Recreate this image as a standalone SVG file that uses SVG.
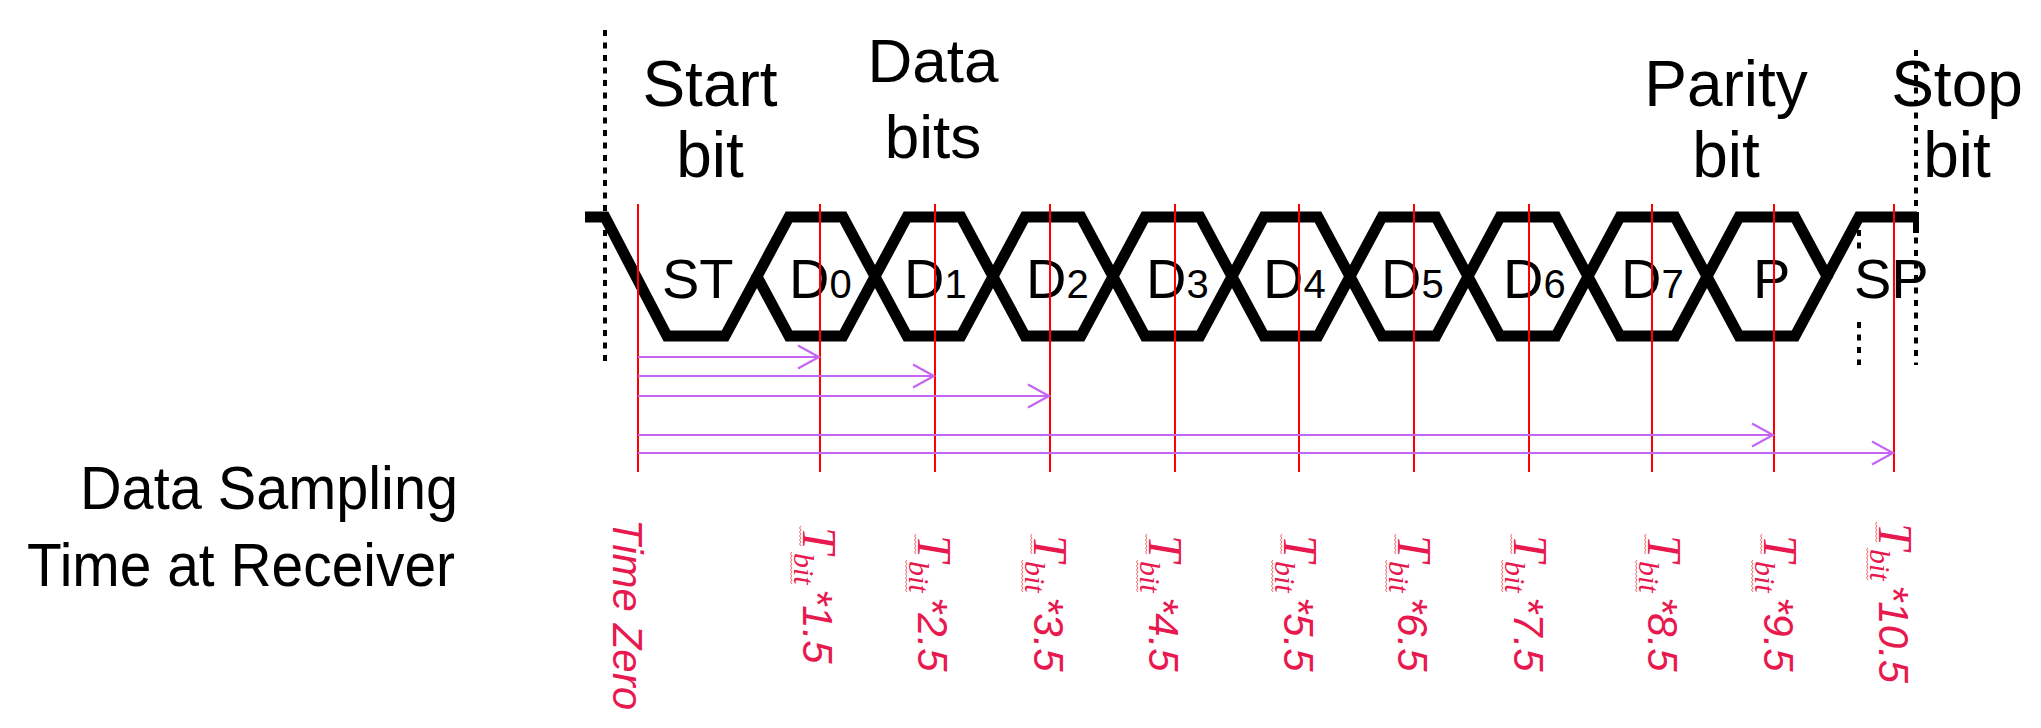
<svg xmlns="http://www.w3.org/2000/svg" xmlns:xlink="http://www.w3.org/1999/xlink" width="2041" height="728" viewBox="0 0 2041 728">
<style>
.wave{fill:none;stroke:#000;stroke-width:11;stroke-linejoin:miter;stroke-miterlimit:6}
.cell{font-family:"Liberation Sans",Arial,sans-serif;font-size:56px;fill:#000}
.sub{font-size:40px}
.lab{font-family:"Liberation Sans",Arial,sans-serif;font-size:64px;fill:#000;text-anchor:middle}
.side{font-family:"Liberation Sans",Arial,sans-serif;font-size:62px;fill:#000}
.dot{stroke:#000;stroke-width:4;stroke-dasharray:6 6.5;fill:none}
.samp{stroke:#FF0000;stroke-width:2}
.arr{stroke:#C466F2;stroke-width:2.2;fill:none;marker-end:url(#ah)}
.tt{font-family:"Liberation Serif","Times New Roman",serif;font-style:italic;font-size:48px;fill:#E8194F}
.ts{font-family:"Liberation Serif","Times New Roman",serif;font-style:italic;font-size:30px;fill:#E8194F}
.tn{font-family:"Liberation Sans",Arial,sans-serif;font-style:italic;font-size:42px;fill:#E8194F}
.sq{fill:none;stroke:#F26470;stroke-width:1}
</style>
<defs>
<marker id="ah" markerUnits="userSpaceOnUse" markerWidth="30" markerHeight="30" refX="22" refY="15" orient="auto" overflow="visible">
<path d="M1,3.5 L22,15 L1,26.5" fill="none" stroke="#C466F2" stroke-width="2.2"/>
</marker>
<path id="sqA" class="sq" d="M0,0 l2,1.5 l2,-1.5 l2,1.5 l2,-1.5 l2,1.5 l2,-1.5 l2,1.5 l2,-1.5 l2,1.5 l2,-1.5"/>
<path id="sqB" class="sq" d="M0,0 l2,1.5 l2,-1.5 l2,1.5 l2,-1.5 l2,1.5 l2,-1.5 l2,1.5 l2,-1.5 l2,1.5 l2,-1.5 l2,1.5 l2,-1.5 l2,1.5 l2,-1.5 l2,1.5 l2,-1.5"/>
</defs>

<g id="side-label">
<text class="side" x="80" y="509" textLength="378" lengthAdjust="spacingAndGlyphs">Data Sampling</text>
<text class="side" x="27" y="586" textLength="428" lengthAdjust="spacingAndGlyphs">Time at Receiver</text>
</g>

<g id="field-labels">
<g id="lbl-start"><text class="lab" x="710" y="106">Start</text><text class="lab" x="710" y="177">bit</text></g>
<g id="lbl-data"><text class="lab" x="933" y="82" style="font-size:62px">Data</text><text class="lab" x="933" y="158" style="font-size:62px">bits</text></g>
<g id="lbl-parity"><text class="lab" x="1726" y="106">Parity</text><text class="lab" x="1726" y="177">bit</text></g>
<g id="lbl-stop"><text class="lab" x="1957" y="106">Stop</text><text class="lab" x="1957" y="177">bit</text></g>
</g>

<g id="cell-ST"><polyline class="wave" points="585,217 605,217 667,336 725,336 757,276.5"/><text class="cell" x="662" y="298">ST</text></g>
<g id="cell-D0"><polygon class="wave" points="757,276.5 789,217 843,217 875,276.5 843,336 789,336"/><text class="cell" x="789" y="298">D<tspan class="sub">0</tspan></text></g>
<g id="cell-D1"><polygon class="wave" points="875,276.5 907,217 961,217 993,276.5 961,336 907,336"/><text class="cell" x="904" y="298">D<tspan class="sub">1</tspan></text></g>
<g id="cell-D2"><polygon class="wave" points="993,276.5 1025,217 1081,217 1113,276.5 1081,336 1025,336"/><text class="cell" x="1026" y="298">D<tspan class="sub">2</tspan></text></g>
<g id="cell-D3"><polygon class="wave" points="1113,276.5 1145,217 1200,217 1232,276.5 1200,336 1145,336"/><text class="cell" x="1146" y="298">D<tspan class="sub">3</tspan></text></g>
<g id="cell-D4"><polygon class="wave" points="1232,276.5 1264,217 1318,217 1350,276.5 1318,336 1264,336"/><text class="cell" x="1263" y="298">D<tspan class="sub">4</tspan></text></g>
<g id="cell-D5"><polygon class="wave" points="1350,276.5 1382,217 1436,217 1468,276.5 1436,336 1382,336"/><text class="cell" x="1381" y="298">D<tspan class="sub">5</tspan></text></g>
<g id="cell-D6"><polygon class="wave" points="1468,276.5 1500,217 1556,217 1588,276.5 1556,336 1500,336"/><text class="cell" x="1503" y="298">D<tspan class="sub">6</tspan></text></g>
<g id="cell-D7"><polygon class="wave" points="1588,276.5 1620,217 1675,217 1707,276.5 1675,336 1620,336"/><text class="cell" x="1621" y="298">D<tspan class="sub">7</tspan></text></g>
<g id="cell-P"><polygon class="wave" points="1707,276.5 1739,217 1795,217 1827,276.5 1795,336 1739,336"/><text class="cell" x="1753" y="298">P</text></g>
<g id="cell-SP"><polyline class="wave" points="1827,276.5 1859,217 1917,217"/><line x1="1916" y1="212" x2="1916" y2="233" stroke="#000" stroke-width="6"/><text class="cell" x="1854" y="298">SP</text></g>

<g id="sampling-lines">
<line class="samp" x1="638" y1="204" x2="638" y2="472"/>
<line class="samp" x1="820" y1="204" x2="820" y2="472"/>
<line class="samp" x1="935" y1="204" x2="935" y2="472"/>
<line class="samp" x1="1050" y1="204" x2="1050" y2="472"/>
<line class="samp" x1="1175" y1="204" x2="1175" y2="472"/>
<line class="samp" x1="1299" y1="204" x2="1299" y2="472"/>
<line class="samp" x1="1414" y1="204" x2="1414" y2="472"/>
<line class="samp" x1="1529" y1="204" x2="1529" y2="472"/>
<line class="samp" x1="1652" y1="204" x2="1652" y2="472"/>
<line class="samp" x1="1774" y1="204" x2="1774" y2="472"/>
<line class="samp" x1="1894" y1="204" x2="1894" y2="472"/>
</g>

<g id="connectors">
<line class="arr" x1="638" y1="357" x2="819" y2="357"/>
<line class="arr" x1="638" y1="376" x2="934" y2="376"/>
<line class="arr" x1="638" y1="396" x2="1049" y2="396"/>
<line class="arr" x1="638" y1="435" x2="1773" y2="435"/>
<line class="arr" x1="638" y1="453" x2="1893" y2="453"/>
</g>

<g id="frame-marks">
<line class="dot" x1="605" y1="30" x2="605" y2="365"/>
<line class="dot" x1="1916" y1="50" x2="1916" y2="365"/>
<line class="dot" x1="1859" y1="230" x2="1859" y2="250"/>
<line class="dot" x1="1859" y1="322" x2="1859" y2="365"/>
</g>

<g id="time-labels" transform="rotate(90)">
<text class="tn" x="519" y="-613">Time Zero</text>
<g id="t15"><text class="tt" x="527" y="-803">T</text><text class="ts" x="553" y="-794">bit</text><text class="tn" x="589" y="-803">*1.5</text><use xlink:href="#sqA" x="526" y="-801"/><use xlink:href="#sqB" x="552" y="-792"/></g>
<g id="t25"><text class="tt" x="535" y="-918">T</text><text class="ts" x="561" y="-909">bit</text><text class="tn" x="597" y="-918">*2.5</text><use xlink:href="#sqA" x="534" y="-916"/><use xlink:href="#sqB" x="560" y="-907"/></g>
<g id="t35"><text class="tt" x="535" y="-1034">T</text><text class="ts" x="561" y="-1025">bit</text><text class="tn" x="597" y="-1034">*3.5</text><use xlink:href="#sqA" x="534" y="-1032"/><use xlink:href="#sqB" x="560" y="-1023"/></g>
<g id="t45"><text class="tt" x="535" y="-1149">T</text><text class="ts" x="561" y="-1140">bit</text><text class="tn" x="597" y="-1149">*4.5</text><use xlink:href="#sqA" x="534" y="-1147"/><use xlink:href="#sqB" x="560" y="-1138"/></g>
<g id="t55"><text class="tt" x="535" y="-1284">T</text><text class="ts" x="561" y="-1275">bit</text><text class="tn" x="597" y="-1284">*5.5</text><use xlink:href="#sqA" x="534" y="-1282"/><use xlink:href="#sqB" x="560" y="-1273"/></g>
<g id="t65"><text class="tt" x="535" y="-1398">T</text><text class="ts" x="561" y="-1389">bit</text><text class="tn" x="597" y="-1398">*6.5</text><use xlink:href="#sqA" x="534" y="-1396"/><use xlink:href="#sqB" x="560" y="-1387"/></g>
<g id="t75"><text class="tt" x="535" y="-1514">T</text><text class="ts" x="561" y="-1505">bit</text><text class="tn" x="597" y="-1514">*7.5</text><use xlink:href="#sqA" x="534" y="-1512"/><use xlink:href="#sqB" x="560" y="-1503"/></g>
<g id="t85"><text class="tt" x="535" y="-1648">T</text><text class="ts" x="561" y="-1639">bit</text><text class="tn" x="597" y="-1648">*8.5</text><use xlink:href="#sqA" x="534" y="-1646"/><use xlink:href="#sqB" x="560" y="-1637"/></g>
<g id="t95"><text class="tt" x="535" y="-1764">T</text><text class="ts" x="561" y="-1755">bit</text><text class="tn" x="597" y="-1764">*9.5</text><use xlink:href="#sqA" x="534" y="-1762"/><use xlink:href="#sqB" x="560" y="-1753"/></g>
<g id="t105"><text class="tt" x="523" y="-1879">T</text><text class="ts" x="549" y="-1870">bit</text><text class="tn" x="585" y="-1879">*10.5</text><use xlink:href="#sqA" x="522" y="-1877"/><use xlink:href="#sqB" x="548" y="-1868"/></g>
</g>
</svg>
